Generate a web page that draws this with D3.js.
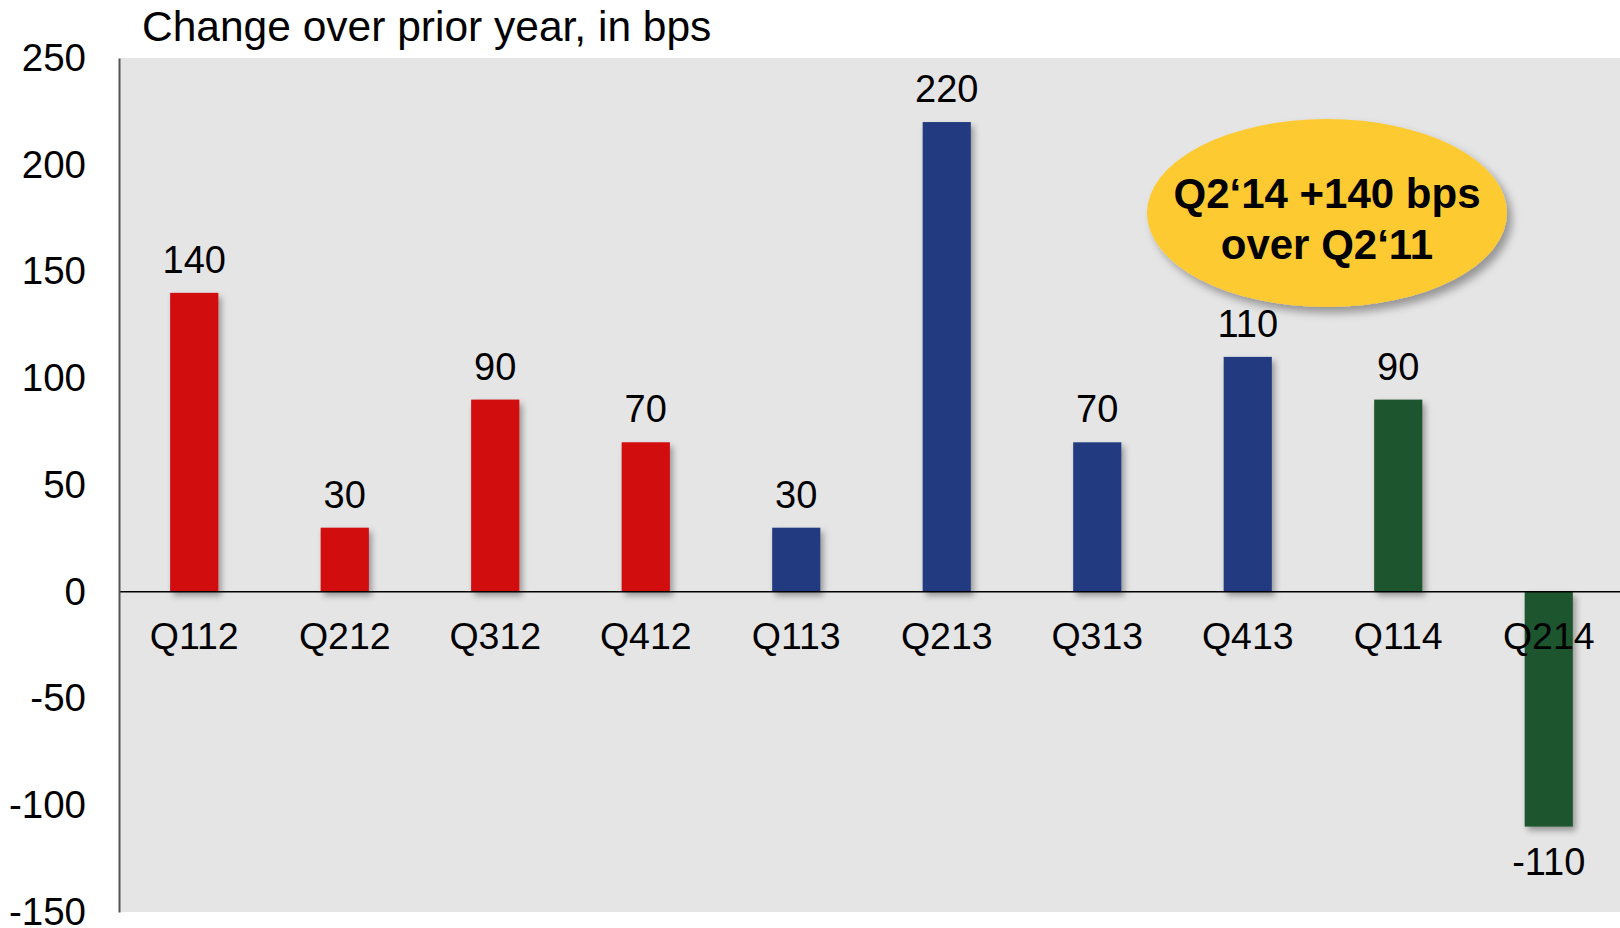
<!DOCTYPE html>
<html><head><meta charset="utf-8">
<script src="https://cdn.jsdelivr.net/npm/d3@7"></script>
<style>
html,body{margin:0;padding:0;background:#fff;}
svg{display:block;font-family:"Liberation Sans",Arial,sans-serif;}
</style></head>
<body>
<svg id="chart" width="1620" height="928"></svg>
<script>
const categories = ["Q112","Q212","Q312","Q412","Q113","Q213","Q313","Q413","Q114","Q214"];
const values = [140, 30, 90, 70, 30, 220, 70, 110, 90, -110];
const barColors = ["#D1070F","#D1070F","#D1070F","#D1070F","#243B80","#243B80","#243B80","#243B80","#1F552F","#1F552F"];
const yTicks = [250, 200, 150, 100, 50, 0, -50, -100, -150];
const title = "Change over prior year, in bps";
const calloutLines = ["Q2\u201814 +140 bps", "over Q2\u201811"];

const svg = d3.select("#chart");
const plotLeft = 119, plotRight = 1620, plotTop = 58, plotBottom = 912;

const x = d3.scaleBand().domain(categories).range([plotLeft, plotLeft + 1505]).paddingInner(0.68).paddingOuter(0.34);
const y = d3.scaleLinear().domain([-150, 250]).range([plotBottom, plotTop]);

const defs = svg.append("defs");
const f = defs.append("filter").attr("id","shadow").attr("x","-20%").attr("y","-20%").attr("width","150%").attr("height","150%");
f.append("feDropShadow").attr("dx",3).attr("dy",4).attr("stdDeviation",3).attr("flood-color","#000").attr("flood-opacity",0.35);
const f2 = defs.append("filter").attr("id","shadow2").attr("x","-20%").attr("y","-20%").attr("width","150%").attr("height","150%");
f2.append("feDropShadow").attr("dx",5).attr("dy",6).attr("stdDeviation",4).attr("flood-color","#000").attr("flood-opacity",0.35);

// plot background
svg.append("rect").attr("x", plotLeft).attr("y", plotTop).attr("width", plotRight-plotLeft).attr("height", plotBottom-plotTop).attr("fill","#E5E5E5");

// title
svg.append("text").attr("x",142).attr("y",41).attr("font-size",42.5).attr("fill","#000").text(title);

// bars
svg.selectAll("rect.bar").data(values).join("rect").attr("class","bar")
  .attr("x",(d,i)=>x(categories[i]))
  .attr("width",x.bandwidth())
  .attr("y",d=>y(Math.max(0,d)))
  .attr("height",d=>Math.abs(y(d)-y(0)))
  .attr("fill",(d,i)=>barColors[i])
  .attr("filter","url(#shadow)");

// zero line
svg.append("line").attr("x1",plotLeft).attr("x2",plotRight).attr("y1",y(0)).attr("y2",y(0)).attr("stroke","#000").attr("stroke-width",1.5);

// category labels
svg.selectAll("text.cat").data(categories).join("text").attr("class","cat")
  .attr("x",d=>x(d)+x.bandwidth()/2).attr("y",y(0)+57)
  .attr("text-anchor","middle").attr("font-size",37.5).attr("fill","#000").text(d=>d);

// value labels
svg.selectAll("text.val").data(values).join("text").attr("class","val")
  .attr("x",(d,i)=>x(categories[i])+x.bandwidth()/2)
  .attr("y",d=>d>=0 ? y(d)-20 : y(d)+48)
  .attr("text-anchor","middle").attr("font-size",38).attr("fill","#000").text(d=>String(d));

// y axis
const yAxis = d3.axisLeft(y).tickValues(yTicks).tickSize(0).tickPadding(33).tickFormat(d=>String(d));
const ga = svg.append("g").attr("transform",`translate(${plotLeft},0)`).call(yAxis);
ga.select(".domain").attr("stroke","#555").attr("stroke-width",2);
ga.selectAll("text").attr("font-size",38.5).attr("fill","#000").attr("font-family","Liberation Sans, Arial, sans-serif");

// callout ellipse
const cx = 1327, cy = 213;
svg.append("ellipse").attr("cx",cx).attr("cy",cy).attr("rx",180).attr("ry",94)
  .attr("fill","#FDCA33").attr("filter","url(#shadow2)");
svg.selectAll("text.call").data(calloutLines).join("text").attr("class","call")
  .attr("x",cx).attr("y",(d,i)=>208+i*51)
  .attr("text-anchor","middle").attr("font-size",42).attr("font-weight","bold").attr("fill","#000").text(d=>d);
</script>
</body></html>
